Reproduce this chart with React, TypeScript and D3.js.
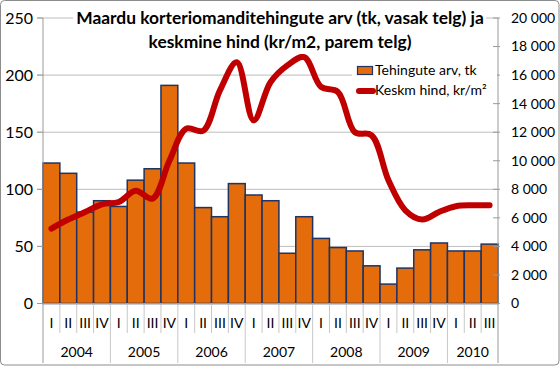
import * as d3 from "d3";

const quarters = ["I", "II", "III", "IV"];
const years = ["2004", "2005", "2006", "2007", "2008", "2009", "2010"];
const categories = years.flatMap((y) => quarters.map((q) => `${y} ${q}`)).slice(0, 27);

// Tehingute arv, tk (left axis)
const dealCounts = [123, 114, 80, 90, 85, 108, 118, 191, 123, 84, 76, 105, 95, 90, 44, 76, 57, 49, 46, 33, 17, 31, 47, 53, 46, 46, 52];
// Keskm hind, kr/m² (right axis)
const avgPrice = [5250, 5880, 6410, 6950, 7110, 7900, 7350, 10000, 12250, 12100, 14930, 16900, 12830, 15500, 16680, 17260, 15170, 14820, 12010, 11780, 8630, 6530, 5880, 6410, 6810, 6880, 6880];

const leftTicks = [0, 50, 100, 150, 200, 250];
const rightTicks = [0, 2000, 4000, 6000, 8000, 10000, 12000, 14000, 16000, 18000, 20000];

const titleLines = [
  "Maardu korteriomanditehingute arv (tk, vasak telg) ja",
  "keskmine hind (kr/m2, parem telg)",
];
const legendLabels = ["Tehingute arv, tk", "Keskm hind, kr/m²"];

const W = 560;
const H = 366;
const FONT = "Lato, 'Open Sans', sans-serif";

export default function App() {
  const left = 43;
  const right = 498;
  const top = 18;
  const bottom = 303.5;

  const x = d3.scaleBand<number>().domain(d3.range(categories.length)).range([left, right]).padding(0);
  const yL = d3.scaleLinear().domain([0, 250]).range([bottom, top]);
  const yR = d3.scaleLinear().domain([0, 20000]).range([bottom, top]);

  const line = d3
    .line<number>()
    .x((_d, i) => x(i)! + x.bandwidth() / 2)
    .y((d) => yR(d))
    .curve(d3.curveCatmullRom.alpha(0.5));

  const fmtR = (v: number) => d3.format(",")(v).replace(",", " ");

  const bw = x.bandwidth();
  const yearStart = (k: number) => left + k * 4 * bw;

  return (
    <div style={{ position: "absolute", left: 0, top: 0 }}>
      <svg width={W} height={H} style={{ display: "block", fontFamily: FONT }}>
        <rect x={0.5} y={0.5} width={W - 1.5} height={H - 1.5} rx={4} fill="#fff" stroke="#8c8c8c" />

        {/* gridlines */}
        {leftTicks.slice(1).map((t) => (
          <line key={t} x1={left - 6} x2={right} y1={yL(t)} y2={yL(t)} stroke="#bdbdbd" strokeWidth={1} />
        ))}

        {/* bars */}
        {dealCounts.map((v, i) => (
          <rect
            key={i}
            x={x(i)!}
            y={yL(v)}
            width={bw}
            height={bottom - yL(v)}
            fill="#e46c0a"
            stroke="#1f3461"
            strokeWidth={1.5}
          />
        ))}

        {/* axes */}
        <line x1={left} x2={left} y1={top} y2={363} stroke="#9a9a9a" />
        <line x1={right} x2={right} y1={top} y2={363} stroke="#9a9a9a" />
        <line x1={left - 6} x2={right} y1={bottom} y2={bottom} stroke="#9a9a9a" />
        {leftTicks.map((t) => (
          <g key={t}>
            <line x1={left - 6} x2={left} y1={yL(t)} y2={yL(t)} stroke="#9a9a9a" />
            <text x={33} y={yL(t)} dy="0.35em" textAnchor="end" fontSize={16}>
              {t}
            </text>
          </g>
        ))}
        {rightTicks.map((t) => (
          <g key={t}>
            <line x1={right - 5} x2={right + 2} y1={yR(t)} y2={yR(t)} stroke="#9a9a9a" />
            <text x={511} y={yR(t)} dy="0.35em" textAnchor="start" fontSize={14}>
              {fmtR(t)}
            </text>
          </g>
        ))}

        {/* category axis */}
        {categories.map((c, i) => (
          <g key={c}>
            {i > 0 && i % 4 !== 0 && (
              <line x1={x(i)!} x2={x(i)!} y1={bottom} y2={333} stroke="#c8c8c8" />
            )}
            <text x={x(i)! + bw / 2} y={323} dy="0.35em" textAnchor="middle" fontSize={14}>
              {c.split(" ")[1]}
            </text>
          </g>
        ))}
        {years.map((yr, k) => {
          const x0 = yearStart(k);
          const x1 = Math.min(yearStart(k + 1), right);
          return (
            <g key={yr}>
              {k > 0 && <line x1={x0} x2={x0} y1={bottom} y2={363} stroke="#c8c8c8" />}
              <text x={(x0 + x1) / 2} y={352} dy="0.35em" textAnchor="middle" fontSize={14}>
                {yr}
              </text>
            </g>
          );
        })}

        {/* price line */}
        <path d={line(avgPrice) ?? ""} fill="none" stroke="#c00000" strokeWidth={6} strokeLinecap="round" strokeLinejoin="round" />

        {/* title */}
        <rect x={73} y={4} width={413} height={50} fill="#fff" />
        {titleLines.map((t, i) => (
          <text key={i} x={280} y={18 + i * 24} dy="0.35em" textAnchor="middle" fontSize={17.4} fontWeight="bold">
            {t}
          </text>
        ))}

        {/* legend */}
        <rect x={352} y={60} width={145} height={42} fill="#fff" />
        <rect x={357.5} y={66.5} width={15} height={8} fill="#e46c0a" stroke="#1f3461" strokeWidth={1.2} />
        <text x={375} y={70.5} dy="0.35em" fontSize={14}>
          {legendLabels[0]}
        </text>
        <line x1={359} x2={373} y1={91} y2={91} stroke="#c00000" strokeWidth={6} strokeLinecap="round" />
        <text x={375} y={90} dy="0.35em" fontSize={14}>
          {legendLabels[1]}
        </text>
      </svg>
    </div>
  );
}
